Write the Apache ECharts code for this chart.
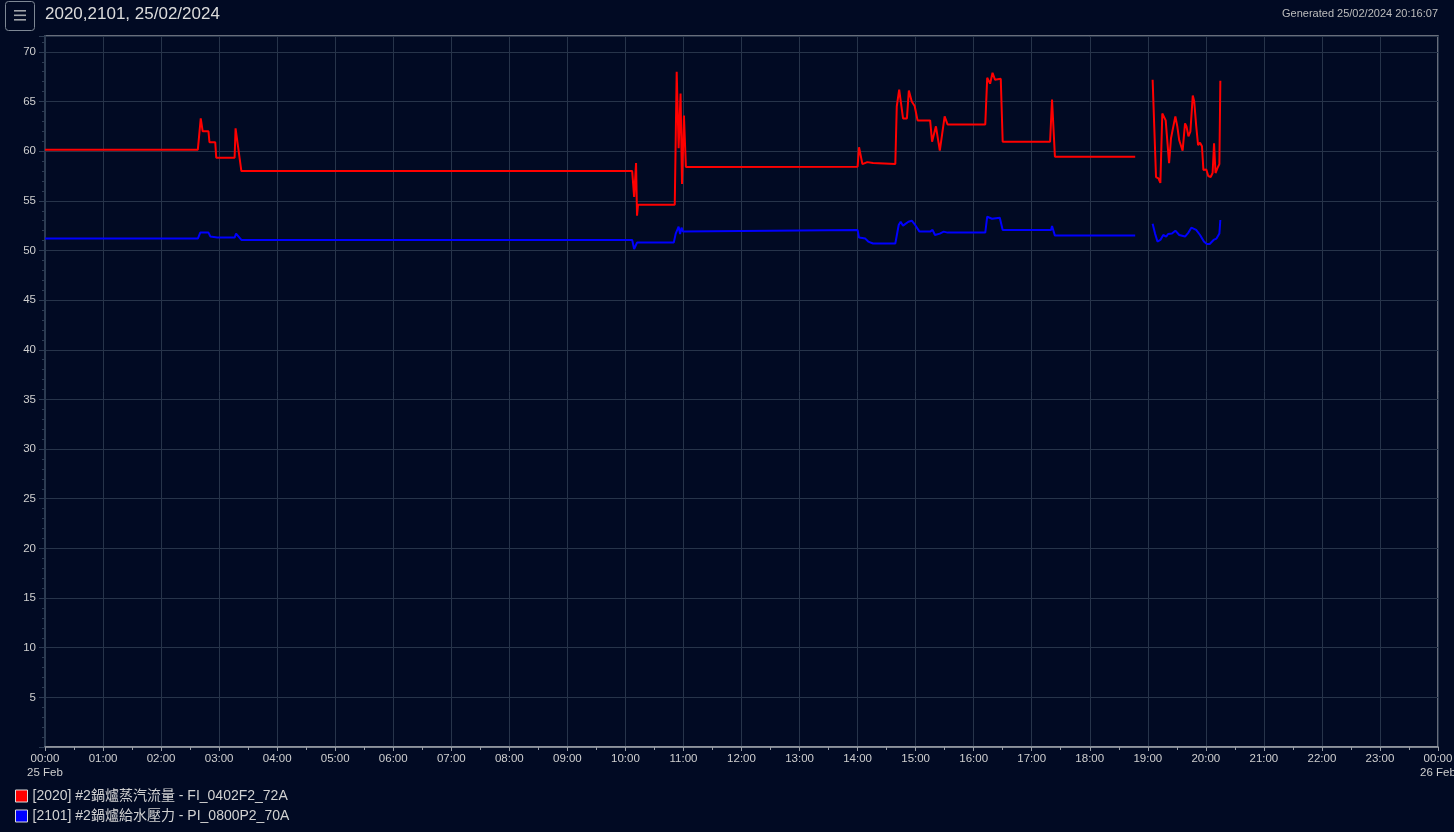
<!DOCTYPE html>
<html>
<head>
<meta charset="utf-8">
<script src="https://cdn.jsdelivr.net/npm/echarts@6/dist/echarts.min.js"></script>
<style>
html,body{margin:0;padding:0;background:#010a23;overflow:hidden;}
::-webkit-scrollbar{display:none;width:0;height:0;}
#chart{position:absolute;left:0;top:0;width:1454px;height:832px;}
</style>
</head>
<body>
<div id="chart"></div>
<script>
// ---- data ----
var titleText = '2020,2101, 25/02/2024';
var generatedText = 'Generated 25/02/2024 20:16:07';
var seriesNames = ['[2020] #2鍋爐蒸汽流量 - FI_0402F2_72A', '[2101] #2鍋爐給水壓力 - PI_0800P2_70A'];
var seriesColors = ['#ff0000', '#0000ff'];

var redTimes = ['00:00','02:38','02:41','02:43','02:49','02:50','02:56','02:57','03:16','03:17','03:23',
  '10:07','10:09','10:11','10:12','10:13','10:51','10:53','10:55','10:57','10:58:30','11:00:30','11:01:30','11:02:30',
  '14:00','14:01:30','14:05','14:10','14:12','14:16','14:18','14:39','14:40:30','14:43','14:44','14:47','14:51',
  '14:53','14:56','14:59','15:02','15:15','15:17','15:21','15:25','15:30','15:33','16:12','16:14','16:17',
  '16:19:30','16:22','16:28','16:30','17:19','17:21','17:24','18:47','18:56',
  '19:05','19:08:30','19:11','19:13','19:15','19:17','19:18:30','19:22','19:24','19:26','19:28:30','19:30:30',
  '19:32:30','19:34','19:36','19:38:30','19:40','19:42','19:44','19:46:30','19:48','19:50','19:52','19:54',
  '19:56','19:57:30','19:59:30','20:00:30','20:02:30','20:05','20:07','20:08:30','20:10','20:12','20:14','20:15'];
var redValues = [60.15,60.15,63.3,62.0,62.0,60.9,60.9,59.35,59.35,62.3,58.0,
  58.0,55.4,58.8,53.5,54.6,54.6,68.0,60.3,65.8,56.7,63.6,63.4,58.4,
  58.44,60.4,58.7,58.9,58.7,58.8,58.7,58.7,64.5,66.2,66.4,63.3,63.3,
  66.1,65.0,64.55,63.1,63.1,60.95,62.5,60.05,63.5,62.7,62.7,67.4,66.8,
  67.9,67.2,67.3,60.96,60.96,65.2,59.45,59.45,null,
  67.2,57.4,57.27,56.8,63.8,63.9,63.1,58.8,61.3,62.3,63.5,62.5,
  61.1,60.95,60.05,62.8,62.5,61.5,61.96,65.6,65.0,62.6,60.6,60.86,
  60.5,58.1,57.9,58.15,57.5,57.4,57.8,60.8,57.8,58.3,58.7,67.1];

var blueTimes = ['00:00','02:38','02:40:30','02:49','02:51','02:58','03:16','03:17:30','03:23',
  '10:07','10:09','10:12','10:50','10:52','10:53:30','10:55','10:56:30','10:58','10:59:30','11:01:30',
  '14:00','14:01:30','14:08','14:11','14:16','14:39','14:42:30','14:44:30','14:47','14:52:30','14:56',
  '14:59:30','15:04','15:15','15:17:30','15:20','15:25','15:29','15:33','16:12','16:14','16:16','16:19',
  '16:20','16:27','16:30','17:20','17:21','17:24','18:47','18:56',
  '19:05','19:07:30','19:10','19:13','19:16','19:19','19:21','19:25','19:28:30','19:32:30','19:38:30',
  '19:42','19:45','19:50','19:54','19:58','20:01','20:04','20:08','20:11','20:14','20:15'];
var blueValues = [51.2,51.2,51.8,51.8,51.4,51.3,51.3,51.7,51.06,
  51.06,50.15,50.8,50.8,51.7,51.8,52.4,51.66,52.3,51.9,52.0,
  52.07,51.3,51.2,50.9,50.7,50.7,52.57,52.9,52.5,52.9,53.0,
  52.57,51.9,51.9,52.07,51.56,51.7,51.9,51.8,51.8,53.4,53.6,53.2,
  53.4,53.3,52.07,52.07,52.47,51.5,51.5,null,
  52.7,51.7,50.9,51.06,51.56,51.4,51.66,51.7,52.0,51.56,51.4,
  51.8,52.3,52.07,51.56,50.9,50.65,50.65,51.06,51.2,51.7,53.07];

var xTickLabels = ['00:00','01:00','02:00','03:00','04:00','05:00','06:00','07:00','08:00','09:00','10:00','11:00',
  '12:00','13:00','14:00','15:00','16:00','17:00','18:00','19:00','20:00','21:00','22:00','23:00','00:00'];
var xDateLabels = {0: '25 Feb', 24: '26 Feb'};

// ---- helpers ----
function toHours(s) {
  var p = s.split(':').map(Number);
  return p[0] + p[1] / 60 + (p[2] || 0) / 3600;
}
function pairs(times, vals) {
  return times.map(function (t, i) { return [toHours(t), vals[i]]; });
}

var chart = echarts.init(document.getElementById('chart'), null, {renderer: 'canvas', width: 1454, height: 832});
var FONT = '"Liberation Sans", Arial, "Noto Sans CJK TC", sans-serif';

var option = {
  backgroundColor: '#010a23',
  animation: false,
  textStyle: {fontFamily: FONT},
  grid: {left: 45, right: 16, top: 36, bottom: 85, containLabel: false, outerBoundsMode: 'none',
         show: true, borderColor: '#8a9099', borderWidth: 1.5, backgroundColor: 'transparent'},
  legend: {
    orient: 'vertical', left: 15, top: 789, padding: 0, itemWidth: 12, itemHeight: 12, itemGap: 6,
    icon: 'rect',
    textStyle: {color: '#d2d2d2', fontSize: 14, fontFamily: FONT},
    itemStyle: {borderColor: '#dddddd', borderWidth: 1},
    data: seriesNames
  },
  xAxis: {
    type: 'value', min: 0, max: 24, interval: 1,
    axisLine: {show: true, lineStyle: {color: '#9a9ea6', width: 1.5}},
    axisTick: {show: true, length: 4, lineStyle: {color: '#9a9ea6'}},
    minorTick: {show: true, splitNumber: 2, length: 3, lineStyle: {color: '#9a9ea6'}},
    splitLine: {show: true, lineStyle: {color: '#27344a', width: 1}},
    axisLabel: {
      color: '#cfcfcf', fontSize: 11.5, margin: 5, lineHeight: 14,
      formatter: function (v) {
        var i = Math.round(v);
        var s = xTickLabels[i];
        if (xDateLabels[i]) s += '\n' + xDateLabels[i];
        return s;
      }
    }
  },
  yAxis: {
    type: 'value', min: 0, max: 71.6, interval: 5,
    axisLine: {show: true, lineStyle: {color: '#2c3b52', width: 2}},
    axisTick: {show: true, length: 6, lineStyle: {color: '#2c3b52'}},
    minorTick: {show: true, splitNumber: 5, length: 3, lineStyle: {color: '#2c3b52'}},
    splitLine: {show: true, lineStyle: {color: '#27344a', width: 1}},
    axisLabel: {
      color: '#cfcfcf', fontSize: 11.5, margin: 9,
      formatter: function (v) { return (v > 0 && Math.abs(v % 5) < 1e-6) ? String(v) : ''; }
    }
  },
  series: [
    {name: seriesNames[0], type: 'line', data: pairs(redTimes, redValues), showSymbol: false, symbol: 'none',
     connectNulls: false, lineStyle: {color: seriesColors[0], width: 2}, itemStyle: {color: seriesColors[0]}, z: 3},
    {name: seriesNames[1], type: 'line', data: pairs(blueTimes, blueValues), showSymbol: false, symbol: 'none',
     connectNulls: false, lineStyle: {color: seriesColors[1], width: 2}, itemStyle: {color: seriesColors[1]}, z: 3}
  ],
  graphic: [
    {type: 'rect', left: 5, top: 1, shape: {width: 29, height: 29, r: 3}, style: {fill: 'transparent', stroke: '#7d8794', lineWidth: 1}},
    {type: 'rect', left: 14, top: 10, shape: {width: 12, height: 1.6}, style: {fill: '#a0a4aa'}},
    {type: 'rect', left: 14, top: 14.5, shape: {width: 12, height: 1.6}, style: {fill: '#a0a4aa'}},
    {type: 'rect', left: 14, top: 19, shape: {width: 12, height: 1.6}, style: {fill: '#a0a4aa'}},
    {type: 'text', left: 45, top: 6, style: {text: titleText, fill: '#dcdcdc', font: '17px ' + FONT}},
    {type: 'text', right: 16, top: 8, style: {text: generatedText, fill: '#bdbdbd', font: '11px ' + FONT}}
  ]
};
chart.setOption(option);
</script>
</body>
</html>
